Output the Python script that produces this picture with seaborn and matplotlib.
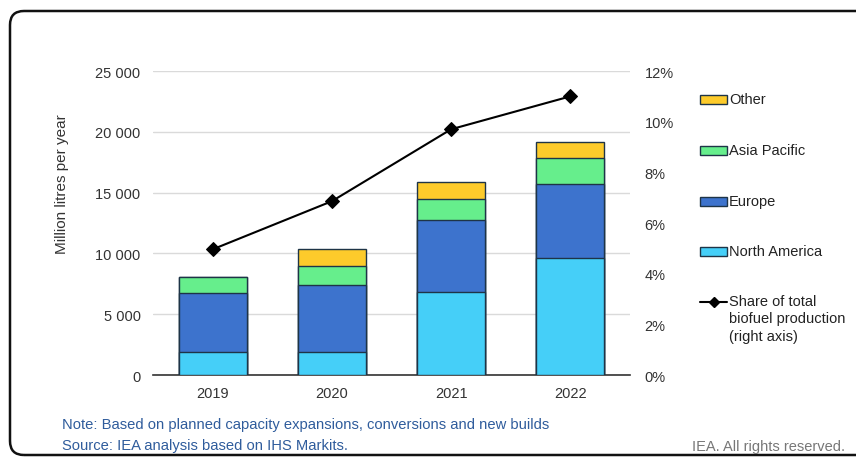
import numpy as np
import pandas as pd
import matplotlib
matplotlib.use("Agg")
import matplotlib.pyplot as plt
import seaborn as sns
from matplotlib.patches import FancyBboxPatch, Rectangle
from matplotlib.lines import Line2D
from matplotlib.transforms import IdentityTransform
from matplotlib.ticker import FuncFormatter, MultipleLocator

years = ["2019", "2020", "2021", "2022"]
north_america = [1900, 1900, 6850, 9600]
europe = [4850, 5480, 5870, 6080]
asia_pacific = [1330, 1610, 1750, 2140]
other = [0, 1370, 1370, 1320]
share = [4.96, 6.86, 9.70, 11.0]

series_names = ["North America", "Europe", "Asia Pacific", "Other"]
series_vals = [north_america, europe, asia_pacific, other]
colors = ["#45CFF8", "#3D73CD", "#66EE8C", "#FDCB2B"]
edge = "#1E3447"

sns.set_theme(style="white")
plt.rcParams["font.family"] = ["Liberation Sans", "DejaVu Sans"]

fig = plt.figure(figsize=(8.56, 4.6), dpi=100)
ax = fig.add_axes([153 / 856, 1 - 376 / 460, (630 - 153) / 856, (376 - 72) / 460])

cum = np.cumsum(np.array(series_vals), axis=0)
for i in range(len(series_names) - 1, -1, -1):
    df = pd.DataFrame({"year": years, "val": cum[i]})
    sns.barplot(data=df, x="year", y="val", color=colors[i], width=0.57,
                edgecolor=edge, linewidth=1.0, saturation=1, ax=ax, zorder=3)

ax.set_xlim(-0.5, 3.5)
ax.set_ylim(0, 25000)
ax.yaxis.set_major_locator(MultipleLocator(5000))
ax.yaxis.set_major_formatter(FuncFormatter(lambda v, p: f"{int(v):,}".replace(",", " ")))
ax.grid(axis="y", color="#DADADA", linewidth=1.0, zorder=0)
ax.set_axisbelow(True)
for s in ["top", "right", "left"]:
    ax.spines[s].set_visible(False)
ax.spines["bottom"].set_color("#333333")
ax.spines["bottom"].set_linewidth(1.2)
ax.set_xlabel("")
ax.set_ylabel("")
ax.tick_params(axis="both", length=0, labelsize=10.5, colors="#333333")
ax.tick_params(axis="x", pad=8)
ax.tick_params(axis="y", pad=9)

ax2 = ax.twinx()
sns.lineplot(x=np.arange(len(years)), y=share, ax=ax2, color="black", linewidth=1.5,
             marker="D", markersize=7, markeredgecolor="black", zorder=5)
ax2.set_ylim(0, 12)
ax2.set_xlim(-0.5, 3.5)
ax2.yaxis.set_major_locator(MultipleLocator(2))
ax2.yaxis.set_major_formatter(FuncFormatter(lambda v, p: f"{int(v)}%"))
for s in ["top", "right", "left", "bottom"]:
    ax2.spines[s].set_visible(False)
ax2.tick_params(axis="y", length=0, labelsize=10.5, colors="#333333", pad=10.5)
ax2.grid(False)

fig.text(62 / 856, 1 - 184 / 460, "Million litres per year", rotation=90,
         ha="center", va="center", fontsize=11, color="#333333")

# legend (manual)
leg_y = [100, 151, 202, 252]
leg_order = [3, 2, 1, 0]
for yy, idx in zip(leg_y, leg_order):
    fig.add_artist(Rectangle((700 / 856, 1 - (yy + 4.5) / 460), 27 / 856, 9 / 460,
                             facecolor=colors[idx], edgecolor=edge, linewidth=1.0,
                             transform=fig.transFigure))
    fig.text(729 / 856, 1 - yy / 460, series_names[idx], ha="left", va="center",
             fontsize=10.5, color="#222222")
fig.add_artist(Line2D([700 / 856, 727 / 856], [1 - 303 / 460, 1 - 303 / 460],
                      color="black", linewidth=1.5, transform=fig.transFigure))
fig.add_artist(Line2D([713.5 / 856], [1 - 303 / 460], color="black", marker="D",
                      markersize=5, transform=fig.transFigure))
fig.text(729 / 856, 1 - 295 / 460, "Share of total\nbiofuel production\n(right axis)",
         ha="left", va="top", fontsize=10.5, color="#222222", linespacing=1.3)

fig.text(62 / 856, 1 - 425 / 460, "Note: Based on planned capacity expansions, conversions and new builds",
         ha="left", va="center", fontsize=10.6, color="#2F5C9C")
fig.text(62 / 856, 1 - 446 / 460, "Source: IEA analysis based on IHS Markits.",
         ha="left", va="center", fontsize=10.6, color="#2F5C9C")
fig.text(845 / 856, 1 - 447 / 460, "IEA. All rights reserved.",
         ha="right", va="center", fontsize=10.5, color="#777777")

frame = FancyBboxPatch((10, 4), 870, 444, boxstyle="round,pad=0,rounding_size=14",
                       facecolor="none", edgecolor="#111111", linewidth=1.8,
                       transform=IdentityTransform())
fig.add_artist(frame)

fig.savefig("out.png", dpi=100)
